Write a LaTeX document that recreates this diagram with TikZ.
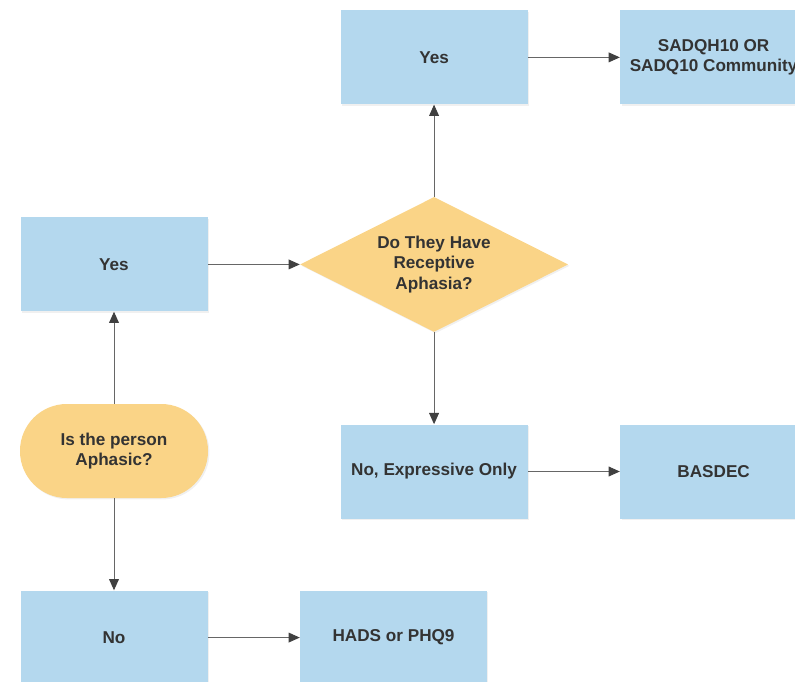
\documentclass[tikz,border=0pt]{standalone}
\usepackage{fontspec}
\setmainfont{Liberation Sans}
\usepackage{tikz}
\usetikzlibrary{positioning, shapes.geometric, arrows.meta, shadows}
\definecolor{boxblue}{RGB}{180,216,238}
\definecolor{decyellow}{RGB}{250,212,135}
\definecolor{txtgray}{RGB}{51,51,51}

\tikzset{
  flow/.style={draw=none, fill=boxblue, minimum width=4.675cm, minimum height=2.35cm,
    drop shadow={shadow xshift=1pt, shadow yshift=-1pt, opacity=0.12}},
  quest/.style={draw=none, fill=decyellow, minimum width=4.7cm, minimum height=2.35cm,
    rounded corners=1.17cm, drop shadow={shadow xshift=1pt, shadow yshift=-1pt, opacity=0.12}},
  decide/.style={diamond, shape aspect=2, draw=none, fill=decyellow, inner sep=0pt,
    minimum width=6.7cm, minimum height=3.375cm,
    drop shadow={shadow xshift=1pt, shadow yshift=-1pt, opacity=0.12}},
  arr/.style={draw=black!60, line width=0.7pt, -{Triangle[length=8pt, width=7pt, color=black!75]}}
}

\begin{document}
\begin{tikzpicture}[
        node distance=2.3cm,
        every node/.style={align=center, font=\bfseries\fontsize{12.2}{14.5}\selectfont, text=txtgray}
    ]
      \useasboundingbox (0,0) rectangle (19.875,-17.05);

      \node[quest] (q1) at (2.85,-11.275) {Is the person\\Aphasic?};
      \node[flow, above=of q1] (yes1) {Yes};
      \node[flow, below=of q1] (no1) {No};
      \node[flow, right=of no1] (hads) {HADS or PHQ9};
      \node[decide, right=of yes1] (q2) {Do They Have\\Receptive\\Aphasia?};
      \node[flow, above=of q2] (yes2) {Yes};
      \node[flow, right=of yes2] (sadq) {SADQH10 OR\\SADQ10 Community};
      \node[flow, below=of q2] (no2) {No, Expressive Only};
      \node[flow, right=of no2] (basdec) {BASDEC};

      \draw [arr] (q1) -- (yes1);
      \draw [arr] (q1) -- (no1);
      \draw [arr] (no1) -- (hads);
      \draw [arr] (yes1) -- (q2);
      \draw [arr] (q2) -- (yes2);
      \draw [arr] (q2) -- (no2);
      \draw [arr] (yes2) -- (sadq);
      \draw [arr] (no2) -- (basdec);
    \end{tikzpicture}
\end{document}
